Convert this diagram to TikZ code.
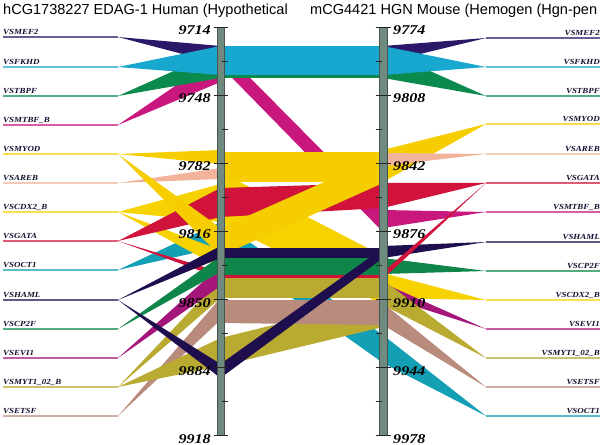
\documentclass[tikz,border=0pt]{standalone}
\usepackage{fontspec}
\usepackage{graphicx}
\setmainfont{Liberation Serif}
\newfontfamily\titlefont{Liberation Sans}
\definecolor{cmef}{HTML}{2B1869}
\definecolor{cfkhd}{HTML}{17A7CF}
\definecolor{ctbpf}{HTML}{0B8A4D}
\definecolor{cmtbf}{HTML}{C8187E}
\definecolor{cmyod}{HTML}{F6CD00}
\definecolor{careb}{HTML}{F2B39B}
\definecolor{ccdx}{HTML}{F6D300}
\definecolor{cgata}{HTML}{D1133B}
\definecolor{coct}{HTML}{13A0B5}
\definecolor{chaml}{HTML}{1F0E4E}
\definecolor{ccp}{HTML}{0F8649}
\definecolor{cevi}{HTML}{A5167A}
\definecolor{cmyt}{HTML}{B9AA32}
\definecolor{cets}{HTML}{B98B7D}
\definecolor{cbar}{HTML}{6F8A7E}
\definecolor{cbaredge}{HTML}{46564E}
\definecolor{labc}{HTML}{141030}
\newcommand\lfan[4]{\fill[#1] (118,#2) -- (220.5,#3) -- (220.5,#4) -- cycle;}
\newcommand\rfan[4]{\fill[#1] (486,#2) -- (383,#3) -- (383,#4) -- cycle;}
\newcommand\bnd[5]{\fill[#1] (220.5,#2) -- (383,#4) -- (383,#5) -- (220.5,#3) -- cycle;}
\newcommand\wlab[1]{\scalebox{1.15}[1]{#1}}
\newcommand\wnum[1]{\scalebox{1.2}[1]{#1}}
\begin{document}
\begin{tikzpicture}[x=1bp,y=-1bp,
  lbl/.style={font=\fontsize{7.8}{8}\selectfont\bfseries\itshape, text=labc, inner sep=0pt},
  num/.style={font=\fontsize{13.5}{14}\selectfont\bfseries\itshape, text=black, inner sep=0pt},
  ttl/.style={font=\titlefont\fontsize{14.6}{15}\selectfont, inner sep=0pt},
  rowline/.style={line width=1.2bp},
  bar/.style={fill=cbar, draw=cbaredge, line width=0.6bp},
  tick/.style={draw=black!85, line width=0.9bp}
]
\useasboundingbox (0,0) rectangle (604,445);
% ---- bands, bottom to top ----
% MEF2
\lfan{cmef}{37}{46}{64}
\bnd{cmef}{46}{64}{46}{64}
\rfan{cmef}{38}{46}{63}
% MTBF_B
\lfan{cmtbf}{125}{55}{82}
\bnd{cmtbf}{48}{66}{212}{232}
\rfan{cmtbf}{212}{210}{228}
% TBPF
\lfan{ctbpf}{96}{50}{78}
\bnd{ctbpf}{50}{78}{50}{78}
\rfan{ctbpf}{96}{50}{78}
% FKHD
\lfan{cfkhd}{67}{46}{75}
\bnd{cfkhd}{46}{75}{46}{75}
\rfan{cfkhd}{67}{46}{75}
% OCT1
\lfan{coct}{270}{222}{247}
\bnd{coct}{222}{247}{335}{363}
\rfan{coct}{416}{335}{363}
% AREB
\lfan{careb}{183}{168}{179}
% CDX2_B
\lfan{ccdx}{212}{184}{222}
\bnd{ccdx}{172}{222}{256}{305}
\lfan{ccdx}{212}{250}{268}
\rfan{ccdx}{300}{273}{298}
% MYOD
\lfan{cmyod}{154}{150}{164}
\bnd{cmyod}{152}{182}{152}{182}
\rfan{cmyod}{124}{150}{182}
\rfan{careb}{154}{153}{166}
% GATA
\lfan{cgata}{241}{188}{217}
\bnd{cgata}{188}{217}{183}{208}
\rfan{cgata}{183}{183}{208}
\lfan{cgata}{241}{272}{278}
% MYOD diagonal
\lfan{cmyod}{154}{228}{256}
\bnd{cmyod}{228}{256}{156}{183}
% lower stack between bars
\bnd{chaml}{248}{258}{248}{258}
\bnd{ccp}{258}{275}{258}{275}
\bnd{cgata}{275}{278}{275}{278}
\bnd{cmyt}{278}{298}{278}{298}
\bnd{cmyt}{338}{366}{298}{327}
\bnd{cets}{300}{323}{300}{325}
% left lower fans
\lfan{cets}{416}{298}{320}
\lfan{cmyt}{387}{338}{366}
\lfan{cmyt}{387}{279}{298}
\lfan{cevi}{358}{266}{286}
\lfan{ccp}{329}{256}{272}
\lfan{chaml}{300}{246}{258}
% right lower fans
\rfan{cevi}{329}{283}{296}
\rfan{cmyt}{358}{280}{305}
\rfan{cets}{387}{303}{325}
\rfan{chaml}{242}{246}{258}
\rfan{ccp}{271}{258}{274}
\rfan{cgata}{183}{272}{279}
% HAML diagonal on top
\bnd{chaml}{364}{378}{248}{258}
\lfan{chaml}{300}{364}{378}
% ---- bars ----
\path[bar] (217,27) rectangle (224,435);
\path[bar] (379,27) rectangle (387,435);
\foreach \k in {0,...,6}{
  \draw[tick] (213.5,27+68*\k) -- (227.5,27+68*\k);
  \draw[tick] (375.5,27+68*\k) -- (390.5,27+68*\k);
}
\foreach \k in {0,...,5}{
  \draw[tick] (221.5,61+68*\k) -- (227.5,61+68*\k);
  \draw[tick] (375.5,61+68*\k) -- (381.5,61+68*\k);
}
% ---- position numbers ----
\node[num, anchor=base east] (n1) at (211,35) {\wnum{9714}};
\node[num, anchor=base east] (n2) at (211,103) {\wnum{9748}};
\node[num, anchor=base east] (n3) at (211,171) {\wnum{9782}};
\node[num, anchor=base east] (n4) at (211,239) {\wnum{9816}};
\node[num, anchor=base east] (n5) at (211,307) {\wnum{9850}};
\node[num, anchor=base east] (n6) at (211,375) {\wnum{9884}};
\node[num, anchor=base east] (n7) at (211,443) {\wnum{9918}};
\node[num, anchor=base west] (m1) at (393,35) {\wnum{9774}};
\node[num, anchor=base west] (m2) at (393,103) {\wnum{9808}};
\node[num, anchor=base west] (m3) at (393,171) {\wnum{9842}};
\node[num, anchor=base west] (m4) at (393,239) {\wnum{9876}};
\node[num, anchor=base west] (m5) at (393,307) {\wnum{9910}};
\node[num, anchor=base west] (m6) at (393,375) {\wnum{9944}};
\node[num, anchor=base west] (m7) at (393,443) {\wnum{9978}};
% ---- left rows ----
\foreach \r/\t/\c [count=\i] in {37/VSMEF2/cmef, 67/VSFKHD/cfkhd, 96/VSTBPF/ctbpf, 125/VSMTBF\_B/cmtbf, 154/VSMYOD/cmyod, 183/VSAREB/careb, 212/VSCDX2\_B/ccdx, 241/VSGATA/cgata, 270/VSOCT1/coct, 300/VSHAML/chaml, 329/VSCP2F/ccp, 358/VSEVI1/cevi, 387/VSMYT1\_02\_B/cmyt, 416/VSETSF/cets}{
  \coordinate (la\i) at (3,\r);
  \coordinate (lb\i) at (118,\r);
  \draw[rowline, draw=\c!70!white] (la\i) -- (lb\i);
  \node[lbl, anchor=base west] (lt\i) at (3,\r-2.7) {\wlab{\t}};
}
% ---- right rows ----
\foreach \r/\t/\c [count=\i] in {38/VSMEF2/cmef, 67/VSFKHD/cfkhd, 96/VSTBPF/ctbpf, 124/VSMYOD/cmyod, 154/VSAREB/careb, 183/VSGATA/cgata, 212/VSMTBF\_B/cmtbf, 242/VSHAML/chaml, 271/VSCP2F/ccp, 300/VSCDX2\_B/ccdx, 329/VSEVI1/cevi, 358/VSMYT1\_02\_B/cmyt, 387/VSETSF/cets, 416/VSOCT1/coct}{
  \coordinate (ra\i) at (486,\r);
  \coordinate (rb\i) at (600,\r);
  \draw[rowline, draw=\c!70!white] (ra\i) -- (rb\i);
  \node[lbl, anchor=base east] (rt\i) at (600,\r-2.7) {\wlab{\t}};
}
% ---- titles ----
\node[ttl, anchor=base west] (tl) at (3,15) {hCG1738227 EDAG-1 Human (Hypothetical};
\node[ttl, anchor=base west] (tr) at (310,15) {mCG4421 HGN Mouse (Hemogen (Hgn-pen};
\end{tikzpicture}
\end{document}
